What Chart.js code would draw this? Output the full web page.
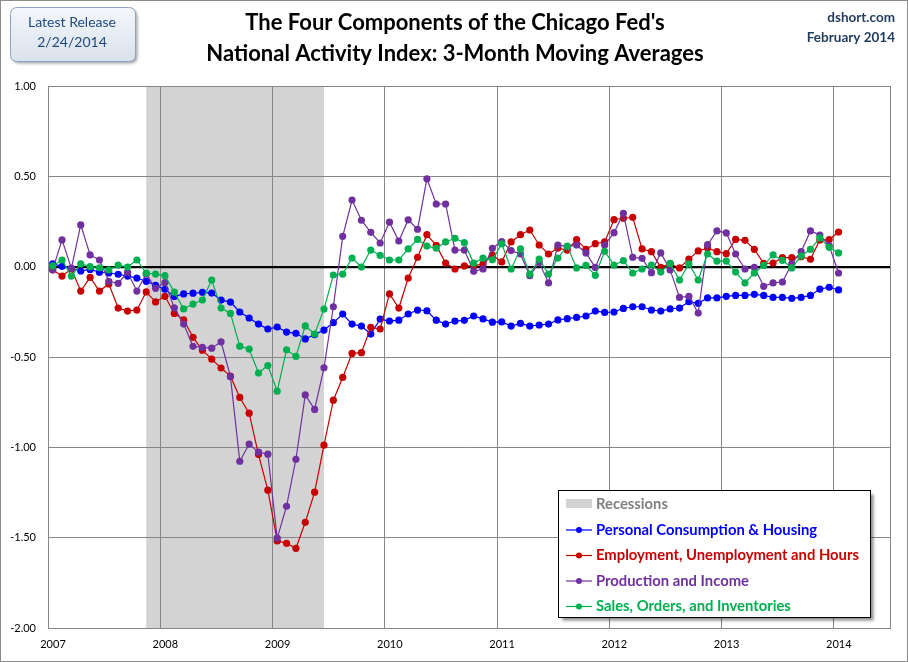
<!DOCTYPE html>
<html>
<head>
<meta charset="utf-8">
<script src="https://cdn.jsdelivr.net/npm/chart.js@4.4.0/dist/chart.umd.min.js"></script>
<style>
  html, body { margin: 0; padding: 0; background: #fff; }
  #wrap { width: 908px; height: 662px; position: relative; }
</style>
</head>
<body>
<div id="wrap"><canvas id="myChart"></canvas></div>
<script>
// monthly 3-month moving averages, Jan 2007 .. Jan 2014
var firstYear = 2007;
var housing = [0.015, 0.002, -0.01, -0.024, -0.015, -0.031, -0.035, -0.042, -0.052, -0.063, -0.081, -0.104,
  -0.125, -0.165, -0.151, -0.147, -0.142, -0.146, -0.185, -0.196, -0.251, -0.284, -0.318, -0.345,
  -0.334, -0.362, -0.369, -0.4, -0.376, -0.351, -0.31, -0.262, -0.318, -0.329, -0.373, -0.29,
  -0.301, -0.296, -0.262, -0.24, -0.244, -0.296, -0.318, -0.301, -0.297, -0.273, -0.289, -0.307,
  -0.306, -0.329, -0.314, -0.329, -0.323, -0.318, -0.295, -0.288, -0.281, -0.273, -0.246, -0.253,
  -0.251, -0.231, -0.222, -0.222, -0.24, -0.246, -0.234, -0.229, -0.194, -0.203, -0.173, -0.173,
  -0.164, -0.159, -0.159, -0.153, -0.159, -0.17, -0.17, -0.175, -0.17, -0.159, -0.124, -0.114,
  -0.129];
var employment = [-0.017, -0.052, -0.013, -0.135, -0.059, -0.135, -0.096, -0.229, -0.246, -0.24, -0.14, -0.195,
  -0.164, -0.259, -0.294, -0.391, -0.462, -0.512, -0.561, -0.606, -0.724, -0.811, -1.04, -1.237,
  -1.518, -1.531, -1.559, -1.415, -1.248, -0.988, -0.739, -0.613, -0.48, -0.476, -0.336, -0.345,
  -0.151, -0.229, -0.063, 0.052, 0.177, 0.118, 0.02, -0.013, 0.004, 0.004, 0.015, 0.065,
  0.026, 0.137, 0.177, 0.203, 0.12, 0.07, 0.103, 0.092, 0.15, 0.096, 0.127, 0.137,
  0.26, 0.268, 0.273, 0.098, 0.083, -0.004, 0.017, -0.007, 0.042, 0.087, 0.103, 0.083,
  0.072, 0.151, 0.146, 0.096, 0.018, 0.02, 0.05, 0.05, 0.055, 0.041, 0.148, 0.15,
  0.192];
var production = [-0.018, 0.148, -0.009, 0.231, 0.065, 0.037, -0.081, -0.092, -0.031, -0.135, -0.04, -0.12,
  -0.088, -0.228, -0.318, -0.441, -0.447, -0.451, -0.416, -0.609, -1.077, -0.982, -1.027, -1.038,
  -1.503, -1.326, -1.066, -0.71, -0.79, -0.56, -0.222, 0.168, 0.369, 0.257, 0.19, 0.131,
  0.246, 0.142, 0.259, 0.207, 0.486, 0.347, 0.347, 0.092, 0.092, -0.026, -0.013, 0.102,
  0.139, 0.089, 0.07, -0.05, 0.024, -0.09, 0.12, 0.111, 0.12, 0.076, -0.004, 0.12,
  0.188, 0.295, 0.052, 0.046, -0.033, 0.076, -0.018, -0.17, -0.164, -0.257, 0.122, 0.198,
  0.187, 0.07, -0.013, -0.004, -0.109, -0.09, -0.085, 0.015, 0.083, 0.198, 0.175, 0.116,
  -0.035];
var sales = [0.004, 0.037, -0.052, 0.015, 0, -0.006, -0.018, 0.009, -0.002, 0.037, -0.035, -0.041,
  -0.05, -0.141, -0.234, -0.207, -0.185, -0.074, -0.229, -0.259, -0.44, -0.456, -0.589, -0.547,
  -0.689, -0.46, -0.497, -0.328, -0.373, -0.235, -0.046, -0.041, 0.048, -0.002, 0.092, 0.063,
  0.037, 0.037, 0.098, 0.151, 0.114, 0.102, 0.137, 0.157, 0.133, 0.02, 0.047, 0.038,
  0.126, -0.013, 0.098, -0.041, 0.042, -0.041, 0.048, 0.114, -0.007, 0.007, -0.048, 0.085,
  0.009, 0.033, -0.035, -0.013, 0.009, -0.03, 0.018, -0.074, 0.015, -0.074, 0.07, 0.031,
  0.031, -0.03, -0.09, -0.035, 0.007, 0.065, 0.035, -0.007, 0.059, 0.096, 0.159, 0.107,
  0.076];
var seriesNames = ["Personal Consumption & Housing", "Employment, Unemployment and Hours",
  "Production and Income", "Sales, Orders, and Inventories"];
var seriesColors = ["#0000ff", "#c80000", "#7030a0", "#00b050"];
var yearTicks = [2007, 2008, 2009, 2010, 2011, 2012, 2013, 2014];
var recessions = [["2007-11", "2009-06"]];

// month "yyyy-mm" -> decimal year at the middle of the month
function toYear(m) {
  var p = m.split("-");
  return +p[0] + (+p[1] - 0.5) / 12;
}
var months = [];
for (var i = 0; i < housing.length; i++) {
  var y = firstYear + Math.floor(i / 12), mo = (i % 12) + 1;
  months.push(y + "-" + (mo < 10 ? "0" : "") + mo);
}

function pts(vals) {
  return vals.map(function (v, i) { return { x: toYear(months[i]), y: v }; });
}

var allSeries = [housing, employment, production, sales];
var datasets = allSeries.map(function (vals, k) {
  return {
    label: seriesNames[k],
    data: pts(vals),
    borderColor: seriesColors[k],
    backgroundColor: seriesColors[k],
    borderWidth: 1.2,
    pointRadius: 3.6,
    pointBorderWidth: 0,
    pointHoverRadius: 3.6,
    order: 4 - k,
    tension: 0
  };
});

function roundRect(ctx, x, y, w, h, r) {
  ctx.beginPath();
  ctx.moveTo(x + r, y);
  ctx.lineTo(x + w - r, y);
  ctx.quadraticCurveTo(x + w, y, x + w, y + r);
  ctx.lineTo(x + w, y + h - r);
  ctx.quadraticCurveTo(x + w, y + h, x + w - r, y + h);
  ctx.lineTo(x + r, y + h);
  ctx.quadraticCurveTo(x, y + h, x, y + h - r);
  ctx.lineTo(x, y + r);
  ctx.quadraticCurveTo(x, y, x + r, y);
  ctx.closePath();
}

var decor = {
  id: "decor",
  beforeDraw: function (chart) {
    var ctx = chart.ctx, xs = chart.scales.x, a = chart.chartArea;
    ctx.save();
    ctx.fillStyle = "#fff";
    ctx.fillRect(0, 0, chart.width, chart.height);
    ctx.fillStyle = "#d3d3d3";
    recessions.forEach(function (r) {
      var x0 = xs.getPixelForValue(toYear(r[0]));
      var x1 = xs.getPixelForValue(toYear(r[1]));
      ctx.fillRect(x0, a.top, x1 - x0, a.bottom - a.top);
    });
    ctx.restore();
  },
  afterDraw: function (chart) {
    var ctx = chart.ctx;
    ctx.save();
    // outer frame
    ctx.strokeStyle = "#8c8c8c";
    ctx.lineWidth = 1;
    ctx.strokeRect(0.5, 0.5, chart.width - 1, chart.height - 1);

    // titles
    ctx.fillStyle = "#000";
    ctx.textAlign = "center";
    ctx.textBaseline = "middle";
    ctx.font = "bold 22px Lato";
    ctx.fillText("The Four Components of the Chicago Fed's", 455, 23);
    ctx.fillText("National Activity Index: 3-Month Moving Averages", 455, 54);

    // release box
    ctx.save();
    ctx.shadowColor = "rgba(0,0,0,0.35)";
    ctx.shadowBlur = 3;
    ctx.shadowOffsetX = 2;
    ctx.shadowOffsetY = 2;
    var g = ctx.createLinearGradient(0, 8, 0, 62);
    g.addColorStop(0, "#f4f7fb");
    g.addColorStop(1, "#d9e1ec");
    roundRect(ctx, 10.5, 7.5, 125, 54, 7);
    ctx.fillStyle = g;
    ctx.fill();
    ctx.restore();
    roundRect(ctx, 10.5, 7.5, 125, 54, 7);
    ctx.strokeStyle = "#8ea2c2";
    ctx.stroke();
    ctx.fillStyle = "#1f497d";
    ctx.font = "14px Lato";
    ctx.fillText("Latest Release", 72, 22);
    ctx.fillText("2/24/2014", 72, 42);

    // source
    ctx.textAlign = "right";
    ctx.fillStyle = "#1f3a5f";
    ctx.font = "bold 13.5px Lato";
    ctx.fillText("dshort.com", 895, 18);
    ctx.fillText("February 2014", 895, 38);

    // legend
    var lx = 558.5, ly = 490.5, lw = 312, lh = 127;
    ctx.save();
    ctx.shadowColor = "rgba(0,0,0,0.45)";
    ctx.shadowBlur = 3;
    ctx.shadowOffsetX = 3;
    ctx.shadowOffsetY = 3;
    ctx.fillStyle = "#fff";
    ctx.fillRect(lx, ly, lw, lh);
    ctx.restore();
    ctx.strokeStyle = "#000";
    ctx.lineWidth = 1;
    ctx.strokeRect(lx, ly, lw, lh);

    ctx.textAlign = "left";
    ctx.font = "bold 14.8px Lato";
    ctx.fillStyle = "#d3d3d3";
    ctx.fillRect(566, 499, 26, 9);
    ctx.fillStyle = "#808080";
    ctx.fillText("Recessions", 596, 504);
    chart.data.datasets.forEach(function (ds, k) {
      var yy = 530 + k * 25.5;
      ctx.strokeStyle = ds.borderColor;
      ctx.lineWidth = 1.2;
      ctx.beginPath();
      ctx.moveTo(566, yy);
      ctx.lineTo(592, yy);
      ctx.stroke();
      ctx.fillStyle = ds.borderColor;
      ctx.beginPath();
      ctx.arc(579, yy, 3, 0, Math.PI * 2);
      ctx.fill();
      ctx.fillText(ds.label, 596, yy);
    });
    ctx.restore();
  }
};

new Chart("myChart", {
  type: "line",
  data: { datasets: datasets },
  plugins: [decor],
  options: {
    responsive: true,
    maintainAspectRatio: false,
    animation: false,
    events: [],
    layout: { padding: { top: 86, right: 18, left: 0, bottom: 0 } },
    plugins: {
      legend: { display: false },
      title: { display: false },
      tooltip: { enabled: false }
    },
    scales: {
      x: {
        type: "linear",
        min: 2007,
        max: 2014.5,
        afterBuildTicks: function (s) {
          s.ticks = yearTicks.map(function (v) { return { value: v }; }).concat([{ value: 2014.5 }]);
        },
        afterFit: function (s) { s.height = 34; },
        ticks: {
          color: "#000",
          font: { family: "Lato", size: 11 },
          padding: 10,
          labelOffset: 5,
          maxRotation: 0,
          autoSkip: false,
          callback: function (v) { return Number.isInteger(v) ? String(v) : ""; }
        },
        grid: { color: "#868686", lineWidth: 1, drawTicks: false },
        border: { color: "#868686" }
      },
      y: {
        min: -2,
        max: 1,
        afterFit: function (s) { s.width = 48; },
        ticks: {
          stepSize: 0.5,
          color: "#000",
          font: { family: "Lato", size: 11 },
          padding: 12,
          callback: function (v) { return v.toFixed(2); }
        },
        grid: {
          drawTicks: false,
          color: function (c) { return c.tick && c.tick.value === 0 ? "#000" : "#868686"; },
          lineWidth: function (c) { return c.tick && c.tick.value === 0 ? 2.2 : 1; }
        },
        border: { color: "#868686" }
      }
    }
  }
});
</script>
</body>
</html>
